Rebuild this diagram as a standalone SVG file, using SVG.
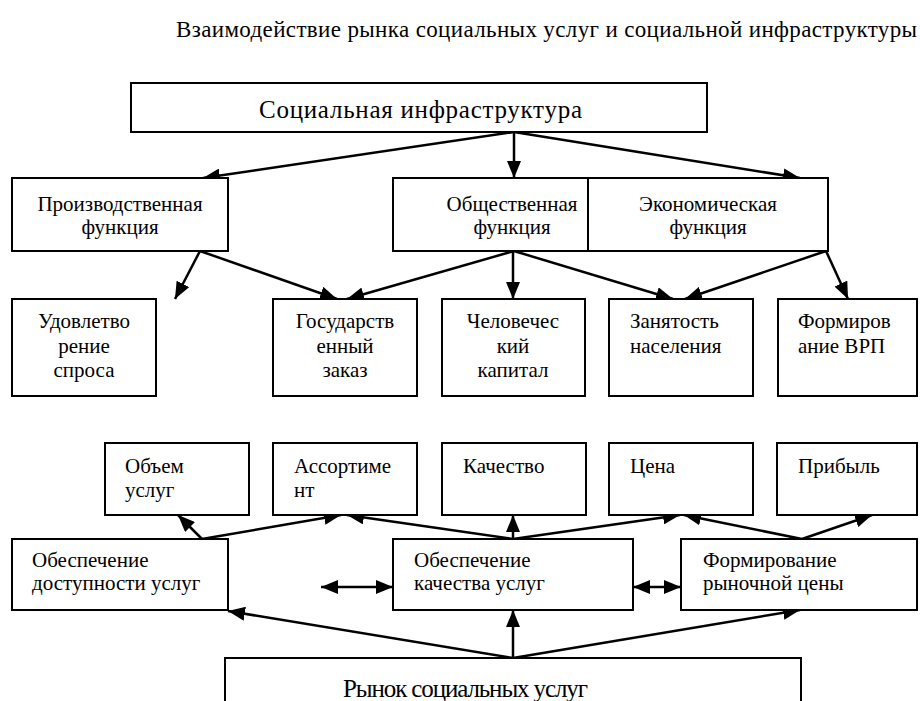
<svg xmlns="http://www.w3.org/2000/svg" width="920" height="701" viewBox="0 0 920 701">
<defs>
<marker id="ah" markerUnits="userSpaceOnUse" markerWidth="18" markerHeight="14" refX="17" refY="7" orient="auto-start-reverse">
<path d="M0,0 L17,7 L0,14 z" fill="#000"/>
</marker>
<style>
rect{fill:#fff;stroke:#000;stroke-width:2}
.c{text-anchor:middle}
.big{font-size:25px}
.title{font-size:23px}
#connectors line{stroke:#000;stroke-width:2.5;marker-end:url(#ah)}
#connectors line.dbl{marker-start:url(#ah)}
</style>
</defs>
<rect x="0" y="0" width="920" height="701" style="fill:#fff;stroke:none"/>
<g font-family="Liberation Serif, DejaVu Serif, Times New Roman, serif" font-size="21" fill="#000">
<text class="title" x="176" y="37" textLength="741">Взаимодействие рынка социальных услуг и социальной инфраструктуры</text>

<g id="connectors">
<line x1="514" y1="132" x2="203" y2="178"/>
<line x1="514" y1="132" x2="514" y2="178"/>
<line x1="514" y1="132" x2="800" y2="178"/>
<line x1="200" y1="251" x2="175" y2="299"/>
<line x1="200" y1="251" x2="337" y2="299"/>
<line x1="514" y1="251" x2="347" y2="299"/>
<line x1="513" y1="251" x2="513" y2="299"/>
<line x1="514" y1="251" x2="673" y2="299"/>
<line x1="826" y1="251" x2="685" y2="299"/>
<line x1="826" y1="251" x2="848" y2="299"/>
<line x1="202" y1="539" x2="178" y2="515"/>
<line x1="202" y1="539" x2="341" y2="515"/>
<line x1="513" y1="539" x2="347" y2="515"/>
<line x1="513" y1="539" x2="513" y2="515"/>
<line x1="513" y1="539" x2="680" y2="515"/>
<line x1="802" y1="539" x2="684" y2="515"/>
<line x1="802" y1="539" x2="872" y2="515"/>
<line class="dbl" x1="321" y1="587" x2="393" y2="587"/>
<line class="dbl" x1="633" y1="587" x2="681" y2="587"/>
<line x1="513" y1="658" x2="228" y2="611"/>
<line x1="513" y1="658" x2="513" y2="610"/>
<line x1="513" y1="658" x2="800" y2="610"/>
</g>

<g id="n-infra"><rect x="131" y="83" width="576" height="49"/><text class="big" x="259" y="118" textLength="323">Социальная инфраструктура</text></g>

<g id="n-prod"><rect x="12" y="178" width="216" height="73"/><text class="c" x="120" y="211">Производственная</text><text class="c" x="120" y="234">функция</text></g>
<g id="n-obsh"><rect x="393" y="178" width="195" height="73"/><text class="c" x="512" y="211">Общественная</text><text class="c" x="512" y="234">функция</text></g>
<g id="n-econ"><rect x="588" y="178" width="240" height="73"/><text class="c" x="708" y="211">Экономическая</text><text class="c" x="708" y="234">функция</text></g>

<g id="n-udov"><rect x="12" y="299" width="144" height="97"/><text class="c" x="84" y="328">Удовлетво</text><text class="c" x="84" y="353">рение</text><text class="c" x="84" y="377">спроса</text></g>
<g id="n-gos"><rect x="273" y="299" width="144" height="97"/><text class="c" x="345" y="328">Государств</text><text class="c" x="345" y="353">енный</text><text class="c" x="345" y="377">заказ</text></g>
<g id="n-chel"><rect x="442" y="299" width="143" height="97"/><text class="c" x="513" y="328">Человечес</text><text class="c" x="513" y="353">кий</text><text class="c" x="513" y="377">капитал</text></g>
<g id="n-zan"><rect x="609" y="299" width="144" height="97"/><text x="630" y="328">Занятость</text><text x="630" y="353">населения</text></g>
<g id="n-vrp"><rect x="778" y="299" width="139" height="97"/><text x="798" y="328">Формиров</text><text x="798" y="353">ание ВРП</text></g>

<g id="n-obem"><rect x="105" y="443" width="144" height="72"/><text x="125" y="473">Объем</text><text x="125" y="497">услуг</text></g>
<g id="n-assort"><rect x="273" y="443" width="144" height="72"/><text x="294" y="473">Ассортиме</text><text x="294" y="497">нт</text></g>
<g id="n-kach"><rect x="442" y="443" width="144" height="72"/><text x="463" y="473">Качество</text></g>
<g id="n-cena"><rect x="609" y="443" width="144" height="72"/><text x="630" y="473">Цена</text></g>
<g id="n-prib"><rect x="777" y="443" width="140" height="72"/><text x="798" y="473">Прибыль</text></g>

<g id="n-dost"><rect x="12" y="539" width="216" height="71"/><text x="32" y="567">Обеспечение</text><text x="32" y="590">доступности услуг</text></g>
<g id="n-kachusl"><rect x="393" y="539" width="240" height="71"/><text x="414" y="567">Обеспечение</text><text x="414" y="590">качества услуг</text></g>
<g id="n-form"><rect x="681" y="539" width="236" height="71"/><text x="703" y="567">Формирование</text><text x="703" y="590">рыночной цены</text></g>

<g id="n-rynok"><rect x="225" y="658" width="576" height="60"/><text class="big" x="343" y="697" textLength="245">Рынок социальных услуг</text></g>
</g>
</svg>
